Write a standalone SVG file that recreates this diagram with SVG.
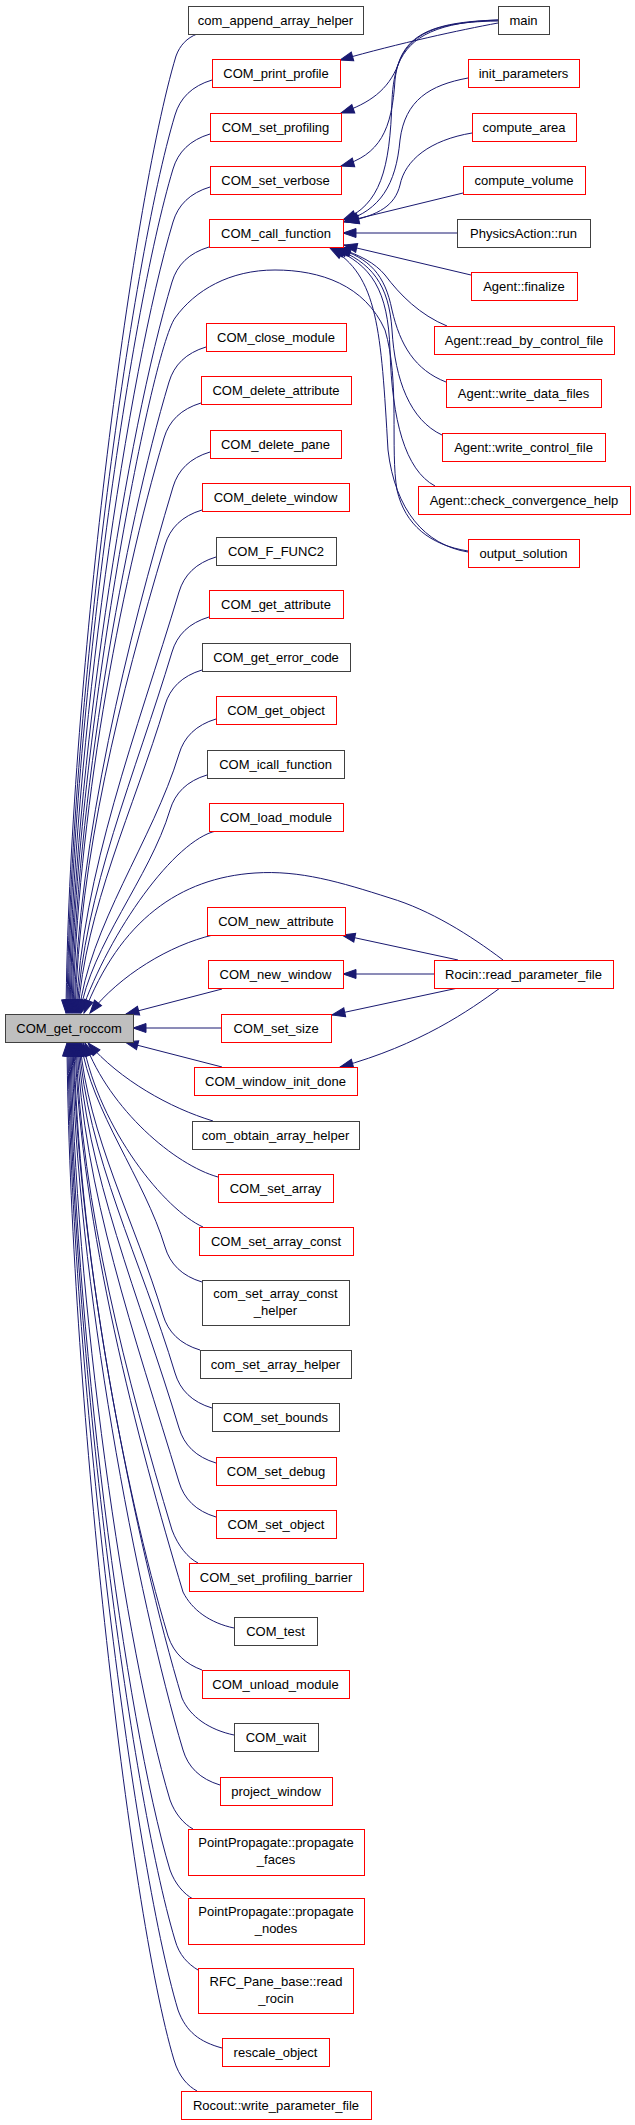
<svg xmlns="http://www.w3.org/2000/svg" width="635" height="2125" viewBox="0 0 635 2125">
<defs>
<style>
.n rect{fill:#fff;stroke-width:1}
.b rect{stroke:#404040}
.r rect{stroke:#ff0000}
.g rect{fill:#bfbfbf;stroke:#404040}
text{font-family:"Liberation Sans",Arial,Helvetica,sans-serif;font-size:13px;text-anchor:middle;fill:#000}
#edges path{fill:none;stroke:#191970;stroke-width:1;marker-end:url(#ah)}
</style>
<marker id="ah" markerUnits="userSpaceOnUse" markerWidth="14" markerHeight="10" refX="13" refY="5" orient="auto" viewBox="0 0 14 10" overflow="visible"><path d="M0,0.5 L13,5 L0,9.5 z" fill="#191970" stroke="#191970" stroke-width="1"/></marker>
</defs>
<rect x="0" y="0" width="635" height="2125" fill="#fff"/>
<g id="edges">
<path d="M197,34 C187,38 180,45 176,56 C131,206 68.9,694 66,1013"/>
<path d="M212,80 C192,86 180,98 175,115 C130,265 70,714 67,1013"/>
<path d="M210,134 C190,140 178,152 173,169 C128,319 71,732 68,1013"/>
<path d="M210,187 C190,193 178,205 173,222 C128,372 72.3,749 69,1013"/>
<path d="M209,247 C189,253 177,265 172,282 C127,432 73.5,769 70,1013"/>
<path d="M468,551 C430,545 405,525 397,490 C390,450 400,380 385,330 C365,285 320,270 275,270 C230,270 195,290 175,318 C151,352 74,750 71,1013"/>
<path d="M206,347 C186,353 174,365 169,382 C124,532 75.8,803 72,1013"/>
<path d="M201,403 C181,409 169,421 164,438 C119,588 77,821 73,1013"/>
<path d="M210,452 C190,458 178,470 173,487 C128,637 78.7,838 74,1013"/>
<path d="M202,510 C182,516 170,528 165,545 C120,695 79.8,857 75,1013"/>
<path d="M216,557 C196,563 184,575 179,592 C137,732 82,873 76,1013"/>
<path d="M209,617 C189,623 177,635 172,652 C136,772 83.6,893 77,1013"/>
<path d="M202,670 C182,676 170,688 165,705 C134,808 85,910 78,1013"/>
<path d="M216,719 C196,725 184,737 179,754 C153,840 88.7,927 79,1013"/>
<path d="M207,775 C187,781 175,793 170,810 C149.6,878 91,945 80,1013"/>
<path d="M216,831 C175,840 110,930 81,1013"/>
<path d="M503,960 C470,935 430,910 390,898 C340,882 300,870 255,873 C180,878 120,920 84,1013"/>
<path d="M213,935 C170,945 120,975 90,1013"/>
<path d="M222,989 L126,1014"/>
<path d="M221,1028 L133,1028"/>
<path d="M222,1067 L125,1042"/>
<path d="M213,1121 C170,1108 120,1080 88,1043"/>
<path d="M218,1177 C175,1165 110,1110 85,1043"/>
<path d="M203,1227 C165,1210 100,1130 83,1043"/>
<path d="M202,1282 C182,1276 170,1264 165,1247 C144.6,1179 91.3,1111 81,1043"/>
<path d="M200,1350 C180,1344 168,1332 163,1315 C135.8,1224 87.6,1134 80,1043"/>
<path d="M212,1408 C192,1402 180,1390 175,1373 C142,1263 86.3,1153 79,1043"/>
<path d="M216,1463 C196,1457 184,1445 179,1428 C140.5,1300 84.6,1171 78,1043"/>
<path d="M216,1517 C196,1511 184,1499 179,1482 C135,1336 82.8,1189 77,1043"/>
<path d="M198,1563 C188,1558 178,1546 172,1530 C127,1380 80.9,1205 76,1043"/>
<path d="M234,1628 C210,1623 192,1610 183,1592 C138,1442 80.5,1226 75,1043"/>
<path d="M202,1670 C186,1664 174,1654 168,1636 C123,1486 78,1241 74,1043"/>
<path d="M234,1735 C210,1730 190,1717 182,1698 C137,1548 77.7,1262 73,1043"/>
<path d="M220,1785 C200,1779 188,1767 183,1750 C138,1600 75.9,1279 72,1043"/>
<path d="M193,1829 C184,1824 175,1814 170,1800 C125,1650 74.3,1295 71,1043"/>
<path d="M193,1899 C184,1894 175,1884 170,1870 C125,1720 73,1319 70,1043"/>
<path d="M198,1970 C188,1964 179,1955 175,1940 C130,1790 72,1342 69,1043"/>
<path d="M222,2048 C200,2042 186,2032 178,2010 C133,1860 70.8,1365 68,1043"/>
<path d="M197,2091 C188,2086 179,2077 174,2060 C129,1910 69.6,1382 67,1043"/>
<path d="M498,23 C460,30 400,43 340,60"/>
<path d="M498,20 C440,22 410,35 398,65 C388,90 370,103 341,113"/>
<path d="M498,20 C430,22 400,35 395,80 C392,130 380,155 341,166"/>
<path d="M498,21 C420,22 395,40 392,100 C390,170 380,205 343,220"/>
<path d="M468,78 C430,85 405,100 400,140 C396,185 380,210 345,221"/>
<path d="M472,133 C430,140 405,160 400,185 C395,205 380,215 346,222"/>
<path d="M463,193 L344,222"/>
<path d="M457,233 L343,233"/>
<path d="M471,275 L344,245"/>
<path d="M447,326 C420,315 400,295 385,275 C375,263 360,255 338,248"/>
<path d="M446,382 C415,370 400,345 392,310 C385,275 370,258 336,248"/>
<path d="M442,435 C410,420 395,380 392,330 C389,285 372,262 334,248"/>
<path d="M435,486 C405,470 392,420 390,350 C388,290 372,265 332,248"/>
<path d="M468,552 C425,545 395,510 388,450 C381,330 378,275 330,248"/>
<path d="M458,960 L342,935"/>
<path d="M434,974 L343,974"/>
<path d="M458,988 L332,1015"/>
<path d="M500,988 C470,1010 420,1045 340,1067"/>
</g>
<g id="n_roccom" class="n g"><rect x="5.5" y="1014.5" width="128" height="28"/><text x="69" y="1032.5">COM_get_roccom</text></g>
<g id="n_append" class="n b"><rect x="188.5" y="6.5" width="175" height="28"/><text x="275.5" y="24.5">com_append_array_helper</text></g>
<g id="n_print_profile" class="n r"><rect x="212.5" y="59.5" width="128" height="28"/><text x="276" y="77.5">COM_print_profile</text></g>
<g id="n_set_profiling" class="n r"><rect x="210.5" y="113.5" width="131" height="28"/><text x="275.5" y="131.5">COM_set_profiling</text></g>
<g id="n_set_verbose" class="n r"><rect x="210.5" y="166.5" width="131" height="28"/><text x="275.5" y="184.5">COM_set_verbose</text></g>
<g id="n_call_function" class="n r"><rect x="209.5" y="219.5" width="134" height="28"/><text x="276" y="237.5">COM_call_function</text></g>
<g id="n_close_module" class="n r"><rect x="206.5" y="323.5" width="140" height="28"/><text x="276" y="341.5">COM_close_module</text></g>
<g id="n_delete_attribute" class="n r"><rect x="201.5" y="376.5" width="150" height="28"/><text x="276" y="394.5">COM_delete_attribute</text></g>
<g id="n_delete_pane" class="n r"><rect x="210.5" y="430.5" width="131" height="28"/><text x="275.5" y="448.5">COM_delete_pane</text></g>
<g id="n_delete_window" class="n r"><rect x="202.5" y="483.5" width="147" height="28"/><text x="275.5" y="501.5">COM_delete_window</text></g>
<g id="n_f_func2" class="n b"><rect x="216.5" y="537.5" width="120" height="28"/><text x="276" y="555.5">COM_F_FUNC2</text></g>
<g id="n_get_attribute" class="n r"><rect x="209.5" y="590.5" width="134" height="28"/><text x="276" y="608.5">COM_get_attribute</text></g>
<g id="n_get_error_code" class="n b"><rect x="202.5" y="643.5" width="148" height="28"/><text x="276" y="661.5">COM_get_error_code</text></g>
<g id="n_get_object" class="n r"><rect x="216.5" y="696.5" width="120" height="28"/><text x="276" y="714.5">COM_get_object</text></g>
<g id="n_icall_function" class="n b"><rect x="207.5" y="750.5" width="137" height="28"/><text x="275.5" y="768.5">COM_icall_function</text></g>
<g id="n_load_module" class="n r"><rect x="209.5" y="803.5" width="134" height="28"/><text x="276" y="821.5">COM_load_module</text></g>
<g id="n_new_attribute" class="n r"><rect x="207.5" y="907.5" width="138" height="28"/><text x="276" y="925.5">COM_new_attribute</text></g>
<g id="n_new_window" class="n r"><rect x="208.5" y="960.5" width="135" height="28"/><text x="275.5" y="978.5">COM_new_window</text></g>
<g id="n_set_size" class="n r"><rect x="221.5" y="1014.5" width="110" height="28"/><text x="276" y="1032.5">COM_set_size</text></g>
<g id="n_window_init_done" class="n r"><rect x="194.5" y="1067.5" width="163" height="28"/><text x="275.5" y="1085.5">COM_window_init_done</text></g>
<g id="n_obtain" class="n b"><rect x="192.5" y="1121.5" width="167" height="28"/><text x="275.5" y="1139.5">com_obtain_array_helper</text></g>
<g id="n_set_array" class="n r"><rect x="218.5" y="1174.5" width="115" height="28"/><text x="275.5" y="1192.5">COM_set_array</text></g>
<g id="n_set_array_const" class="n r"><rect x="199.5" y="1227.5" width="154" height="28"/><text x="276" y="1245.5">COM_set_array_const</text></g>
<g id="n_set_array_const_helper" class="n b"><rect x="202.5" y="1280.5" width="147" height="45"/><text x="275.5" y="1298">com_set_array_const</text><text x="275.5" y="1315">_helper</text></g>
<g id="n_set_array_helper" class="n b"><rect x="200.5" y="1350.5" width="151" height="28"/><text x="275.5" y="1368.5">com_set_array_helper</text></g>
<g id="n_set_bounds" class="n b"><rect x="212.5" y="1403.5" width="127" height="28"/><text x="275.5" y="1421.5">COM_set_bounds</text></g>
<g id="n_set_debug" class="n r"><rect x="216.5" y="1457.5" width="120" height="28"/><text x="276" y="1475.5">COM_set_debug</text></g>
<g id="n_set_object" class="n r"><rect x="216.5" y="1510.5" width="120" height="28"/><text x="276" y="1528.5">COM_set_object</text></g>
<g id="n_set_profiling_barrier" class="n r"><rect x="189.5" y="1563.5" width="174" height="28"/><text x="276" y="1581.5">COM_set_profiling_barrier</text></g>
<g id="n_test" class="n b"><rect x="234.5" y="1617.5" width="83" height="28"/><text x="275.5" y="1635.5">COM_test</text></g>
<g id="n_unload_module" class="n r"><rect x="202.5" y="1670.5" width="147" height="28"/><text x="275.5" y="1688.5">COM_unload_module</text></g>
<g id="n_wait" class="n b"><rect x="234.5" y="1723.5" width="84" height="28"/><text x="276" y="1741.5">COM_wait</text></g>
<g id="n_project_window" class="n r"><rect x="220.5" y="1777.5" width="112" height="28"/><text x="276" y="1795.5">project_window</text></g>
<g id="n_pp_faces" class="n r"><rect x="188.5" y="1829.5" width="176" height="46"/><text x="276" y="1847">PointPropagate::propagate</text><text x="276" y="1864">_faces</text></g>
<g id="n_pp_nodes" class="n r"><rect x="188.5" y="1898.5" width="176" height="46"/><text x="276" y="1916">PointPropagate::propagate</text><text x="276" y="1933">_nodes</text></g>
<g id="n_rfc_read_rocin" class="n r"><rect x="198.5" y="1968.5" width="155" height="45"/><text x="276" y="1986">RFC_Pane_base::read</text><text x="276" y="2003">_rocin</text></g>
<g id="n_rescale_object" class="n r"><rect x="222.5" y="2038.5" width="107" height="28"/><text x="275.5" y="2056.5">rescale_object</text></g>
<g id="n_rocout_write" class="n r"><rect x="181.5" y="2091.5" width="190" height="28"/><text x="276" y="2109.5">Rocout::write_parameter_file</text></g>
<g id="n_main" class="n b"><rect x="498.5" y="6.5" width="51" height="28"/><text x="523.5" y="24.5">main</text></g>
<g id="n_init_parameters" class="n r"><rect x="468.5" y="59.5" width="111" height="28"/><text x="523.5" y="77.5">init_parameters</text></g>
<g id="n_compute_area" class="n r"><rect x="472.5" y="113.5" width="104" height="28"/><text x="524" y="131.5">compute_area</text></g>
<g id="n_compute_volume" class="n r"><rect x="463.5" y="166.5" width="122" height="28"/><text x="524" y="184.5">compute_volume</text></g>
<g id="n_physics_run" class="n b"><rect x="457.5" y="219.5" width="133" height="28"/><text x="523.5" y="237.5">PhysicsAction::run</text></g>
<g id="n_agent_finalize" class="n r"><rect x="471.5" y="272.5" width="106" height="28"/><text x="524" y="290.5">Agent::finalize</text></g>
<g id="n_agent_read" class="n r"><rect x="434.5" y="326.5" width="180" height="28"/><text x="524" y="344.5">Agent::read_by_control_file</text></g>
<g id="n_agent_write_data" class="n r"><rect x="446.5" y="379.5" width="155" height="28"/><text x="523.5" y="397.5">Agent::write_data_files</text></g>
<g id="n_agent_write_control" class="n r"><rect x="442.5" y="433.5" width="163" height="28"/><text x="523.5" y="451.5">Agent::write_control_file</text></g>
<g id="n_agent_check" class="n r"><rect x="418.5" y="486.5" width="212" height="28"/><text x="524" y="504.5">Agent::check_convergence_help</text></g>
<g id="n_output_solution" class="n r"><rect x="468.5" y="539.5" width="111" height="28"/><text x="523.5" y="557.5">output_solution</text></g>
<g id="n_rocin_read" class="n r"><rect x="434.5" y="960.5" width="179" height="28"/><text x="523.5" y="978.5">Rocin::read_parameter_file</text></g>
</svg>
